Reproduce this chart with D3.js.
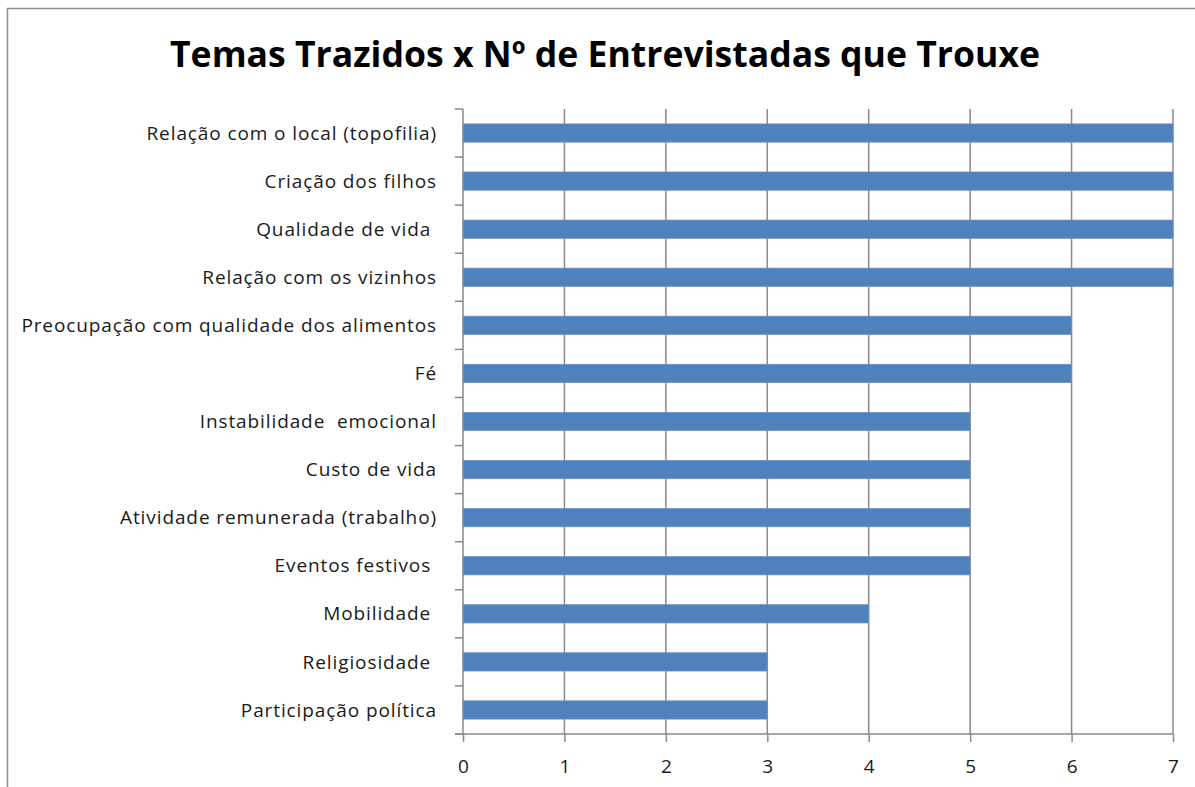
<!DOCTYPE html>
<html>
<head>
<meta charset="utf-8">
<script src="https://cdn.jsdelivr.net/npm/d3@7"></script>
<style>
  body { margin: 0; background: #fff; }
  text { font-family: "Open Sans", "Noto Sans", sans-serif; }
</style>
</head>
<body>
<svg id="chart" width="1195" height="787"></svg>
<script>
// categories, top to bottom
var temas = [
  "Relação com o local (topofilia)",
  "Criação dos filhos",
  "Qualidade de vida ",
  "Relação com os vizinhos",
  "Preocupação com qualidade dos alimentos",
  "Fé",
  "Instabilidade  emocional",
  "Custo de vida",
  "Atividade remunerada (trabalho)",
  "Eventos festivos ",
  "Mobilidade ",
  "Religiosidade ",
  "Participação política"
];
var entrevistadas = [7, 7, 7, 7, 6, 6, 5, 5, 5, 5, 4, 3, 3];
var xTicks = [0, 1, 2, 3, 4, 5, 6, 7];
var titulo = "Temas Trazidos x Nº de Entrevistadas que Trouxe";

var svg = d3.select("#chart");
var margin = { top: 109, left: 463, right: 22, bottom: 53 };
var W = 1195, H = 787;

// outer chart border (only top and left visible)
svg.append("rect")
  .attr("x", 7.5).attr("y", 8.5)
  .attr("width", 1300).attr("height", 900)
  .attr("fill", "#fff")
  .attr("stroke", "#8e8e8e")
  .attr("stroke-width", 1.5);

var x = d3.scaleLinear().domain([0, 7]).range([margin.left, W - margin.right]);
var y = d3.scaleBand().domain(temas)
  .range([margin.top, H - margin.bottom])
  .paddingInner(0.62).paddingOuter(0.31);

// title
svg.append("text")
  .attr("x", 605).attr("y", 67)
  .attr("text-anchor", "middle")
  .attr("font-size", 36)
  .attr("font-weight", "bold")
  .attr("fill", "#000")
  .attr("textLength", 870)
  .attr("lengthAdjust", "spacingAndGlyphs")
  .text(titulo);

// vertical gridlines
svg.append("g").selectAll("line")
  .data(xTicks.slice(1))
  .enter().append("line")
  .attr("x1", d => x(d)).attr("x2", d => x(d))
  .attr("y1", margin.top).attr("y2", H - margin.bottom)
  .attr("stroke", "#8a8a8a").attr("stroke-width", 1.5);

// bars
svg.append("g").selectAll("rect")
  .data(temas)
  .enter().append("rect")
  .attr("x", x(0))
  .attr("y", d => y(d))
  .attr("width", (d, i) => x(entrevistadas[i]) - x(0))
  .attr("height", y.bandwidth())
  .attr("fill", "#4f81bd")
  .attr("stroke", "#6d95c8")
  .attr("stroke-width", 0.8);

// x axis
var xAxis = svg.append("g")
  .attr("transform", "translate(0," + (H - margin.bottom) + ")")
  .call(d3.axisBottom(x).tickValues(xTicks).tickSize(8).tickPadding(18).tickFormat(d3.format("d")));
xAxis.select(".domain").attr("stroke", "#8a8a8a").attr("stroke-width", 1.5)
  .attr("d", "M" + (x(0) - 8) + ",0H" + x(7));
xAxis.selectAll(".tick line").attr("stroke", "#8a8a8a").attr("stroke-width", 1.5);
xAxis.selectAll(".tick text").attr("font-size", 19).attr("fill", "#1a1a1a");

// y axis: ticks at band boundaries, labels at band centers
var yAxis = svg.append("g").attr("transform", "translate(" + x(0) + ",0)");
yAxis.append("line")
  .attr("x1", 0).attr("x2", 0)
  .attr("y1", margin.top).attr("y2", H - margin.bottom)
  .attr("stroke", "#8a8a8a").attr("stroke-width", 1.5);
var step = y.step();
var bounds = d3.range(temas.length + 1).map(i => margin.top + i * step);
yAxis.selectAll(".ytick").data(bounds).enter().append("line")
  .attr("x1", -8).attr("x2", 0)
  .attr("y1", d => d).attr("y2", d => d)
  .attr("stroke", "#8a8a8a").attr("stroke-width", 1.5);
yAxis.selectAll(".ylabel").data(temas).enter().append("text")
  .attr("x", -26)
  .attr("y", d => y(d) + y.bandwidth() / 2)
  .attr("dy", "0.35em")
  .attr("text-anchor", "end")
  .attr("font-size", 19)
  .attr("letter-spacing", 0.9)
  .attr("fill", "#1a1a1a")
  .style("white-space", "pre")
  .text(d => d);
</script>
</body>
</html>
